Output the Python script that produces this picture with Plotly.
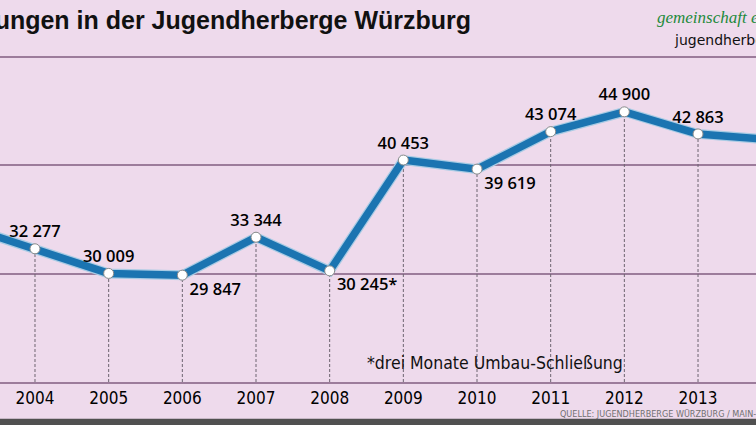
import plotly.graph_objects as go

# Übernachtungen pro Jahr (2003 und 2014 nur angeschnitten sichtbar)
years = [2003, 2004, 2005, 2006, 2007, 2008, 2009, 2010, 2011, 2012, 2013, 2014]
nights = [34480, 32277, 30009, 29847, 33344, 30245, 40453, 39619, 43074, 44900, 42863, 42330]
notes = ["", "", "", "", "", "*", "", "", "", "", "", ""]
grid_vals = [30000, 40000, 50000]
year_ticks = [2004, 2005, 2006, 2007, 2008, 2009, 2010, 2011, 2012, 2013]

title = "Übernachtungen in der Jugendherberge Würzburg"
footnote = "*drei Monate Umbau-Schließung"
source = "QUELLE: JUGENDHERBERGE WÜRZBURG / MAIN-POST-GRAFIK"

# Stil
bg = "#EEDAEC"
grid_col = "#9C7C9B"
blue = "#1B74B1"
narrow = "Liberation Sans Narrow, DejaVu Sans Condensed, sans-serif"
label_pos = ["top center", "top center", "top center", "bottom right", "top center", "bottom right",
             "top center", "bottom right", "top center", "top center", "top center", "top center"]

labels = [f"{v:,}".replace(",", " ") + n for v, n in zip(nights, notes)]

# gestrichelte Lote vom Punkt zur Grundlinie
drop_x, drop_y = [], []
for x, y in zip(years, nights):
    drop_x += [x, x, None]
    drop_y += [20000, y, None]

fig = go.Figure()
fig.add_trace(go.Scatter(x=drop_x, y=drop_y, mode="lines",
                         line=dict(color="#6d6470", width=1, dash="3px,2px"), hoverinfo="skip"))
fig.add_trace(go.Scatter(x=years, y=nights, mode="lines",
                         line=dict(color="#a8cbe4", width=10), hoverinfo="skip"))
fig.add_trace(go.Scatter(x=years, y=nights, mode="lines+markers+text",
                         line=dict(color=blue, width=7.5),
                         marker=dict(size=10, color="white", line=dict(color="#8a8a8a", width=1)),
                         text=labels, textposition=label_pos,
                         textfont=dict(family="Open Sans, Liberation Sans, sans-serif", size=16.5,
                                       color="#000", weight=600),
                         cliponaxis=False))

fig.update_layout(
    width=756, height=425,
    margin=dict(l=0, r=0, t=0, b=43, pad=0, autoexpand=False),
    paper_bgcolor=bg, plot_bgcolor=bg,
    showlegend=False,
    xaxis=dict(range=[2003.525, 2013.787], tickvals=year_ticks, showgrid=False, zeroline=False,
               showline=True, linecolor=grid_col, linewidth=1.5, ticks="", automargin=False,
               tickfont=dict(family=narrow, size=17, color="#000")),
    yaxis=dict(range=[20000, 55207], tickvals=grid_vals, showticklabels=False, automargin=False,
               gridcolor=grid_col, gridwidth=1.5, zeroline=False),
    annotations=[
        dict(text=title, xref="paper", yref="paper", x=473 / 756, y=0.948,
             xanchor="right", yanchor="middle", showarrow=False,
             font=dict(family="Liberation Sans, Arial, sans-serif", size=25, color="#111", weight="bold")),
        dict(text="gemeinschaft erleben", xref="paper", yref="paper", x=655 / 756, y=0.955,
             xanchor="left", yanchor="middle", showarrow=False,
             font=dict(family="Liberation Serif, serif", size=17, color="#1E8A3C", style="italic")),
        dict(text="jugendherberge", xref="paper", yref="paper", x=672 / 756, y=0.895,
             xanchor="left", yanchor="middle", showarrow=False,
             font=dict(family="DejaVu Sans, sans-serif", size=14, color="#111")),
        dict(text=footnote, xref="paper", yref="paper", x=365 / 756, y=0.05,
             xanchor="left", yanchor="middle", showarrow=False,
             font=dict(family=narrow, size=17.5, color="#111")),
        dict(text=source, xref="paper", yref="paper", x=558 / 756, y=-0.083,
             xanchor="left", yanchor="middle", showarrow=False,
             font=dict(family=narrow, size=9, color="#707070")),
    ],
    shapes=[dict(type="rect", xref="paper", yref="paper", x0=0, x1=1, y0=-0.096, y1=-0.2,
                 fillcolor="#505050", line=dict(width=0), layer="above")],
)

# Seitenrand des Browsers entfernen, damit die Grafik bündig sitzt
fig.write_html("out.html", config={"displayModeBar": False},
               post_script="document.body.style.margin='0';document.body.style.overflow='hidden';")
